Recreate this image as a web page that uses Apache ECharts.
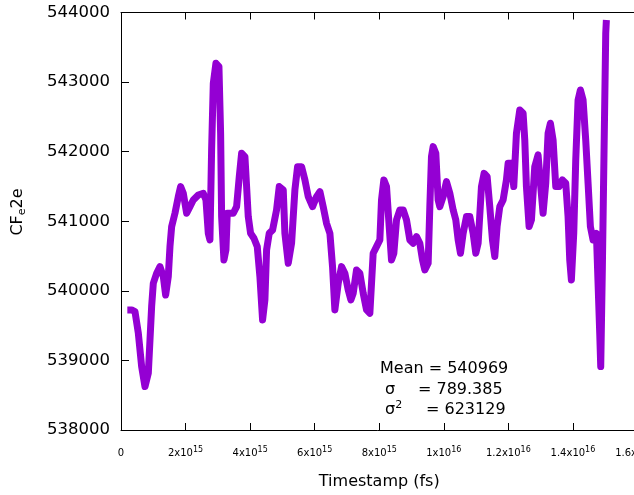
<!DOCTYPE html>
<html><head><meta charset="utf-8">
<script src="https://cdn.jsdelivr.net/npm/echarts@6/dist/echarts.min.js"></script>
<style>html,body{margin:0;padding:0;background:#fff}#c{width:634px;height:495px}</style>
</head><body><div id="c"></div>
<script>
// Timestamp (fs)
const timestamps = [
 0.196e15,0.330e15,0.433e15,0.537e15,0.640e15,0.743e15,0.846e15,0.898e15,0.949e15,1.001e15,
 1.104e15,1.207e15,1.311e15,1.383e15,1.465e15,1.517e15,1.569e15,1.672e15,1.775e15,1.847e15,
 1.930e15,2.033e15,2.136e15,2.239e15,2.394e15,2.549e15,2.632e15,2.704e15,2.755e15,2.807e15,
 2.859e15,2.941e15,3.034e15,3.086e15,3.117e15,3.189e15,3.251e15,3.292e15,3.375e15,3.478e15,
 3.581e15,3.664e15,3.736e15,3.839e15,3.891e15,3.942e15,4.014e15,4.118e15,4.221e15,4.303e15,
 4.386e15,4.458e15,4.510e15,4.592e15,4.696e15,4.819e15,4.902e15,5.026e15,5.077e15,5.181e15,
 5.284e15,5.387e15,5.470e15,5.593e15,5.697e15,5.800e15,5.934e15,6.058e15,6.161e15,6.264e15,
 6.367e15,6.471e15,6.553e15,6.625e15,6.729e15,6.832e15,6.935e15,7.038e15,7.121e15,7.193e15,
 7.296e15,7.399e15,7.503e15,7.606e15,7.709e15,7.812e15,7.915e15,8.019e15,8.070e15,8.142e15,
 8.225e15,8.308e15,8.380e15,8.452e15,8.535e15,8.638e15,8.741e15,8.844e15,8.947e15,9.051e15,
 9.154e15,9.257e15,9.340e15,9.412e15,9.515e15,9.567e15,9.618e15,9.670e15,9.752e15,9.825e15,
 9.876e15,9.979e15,10.083e15,10.186e15,10.289e15,10.371e15,10.444e15,10.516e15,10.599e15,10.702e15,
 10.805e15,10.908e15,10.991e15,11.063e15,11.166e15,11.249e15,11.342e15,11.424e15,11.507e15,11.579e15,
 11.651e15,11.734e15,11.837e15,11.940e15,11.992e15,12.095e15,12.167e15,12.250e15,12.353e15,12.456e15,
 12.508e15,12.559e15,12.642e15,12.714e15,12.817e15,12.920e15,12.993e15,13.075e15,13.158e15,13.230e15,
 13.302e15,13.385e15,13.468e15,13.571e15,13.674e15,13.777e15,13.849e15,13.901e15,13.952e15,14.025e15,
 14.087e15,14.159e15,14.231e15,14.314e15,14.396e15,14.469e15,14.541e15,14.623e15,14.727e15,14.778e15,
 14.830e15,14.861e15,14.912e15,14.964e15,15.016e15,15.036e15
];
// CF_e2e
const cfe2e = [
 539726,539726,539702,539390,538911,538624,538816,539295,539774,540109,
 540253,540348,540205,539941,540205,540636,540923,541115,541354,541498,
 541402,541115,541210,541306,541378,541402,541306,540827,540732,542025,
 542982,543270,543222,542264,541067,540444,540588,541115,541115,541115,
 541210,541641,541977,541929,541498,541067,540827,540755,540636,540205,
 539582,539869,540588,540827,540875,541163,541498,541450,540827,540396,
 540684,541450,541785,541785,541594,541354,541210,541354,541426,541210,
 540971,540827,540348,539726,540109,540348,540253,540013,539869,539965,
 540300,540253,539965,539726,539678,540540,540636,540732,541306,541594,
 541498,540923,540444,540540,541019,541163,541163,541019,540732,540684,
 540780,540684,540444,540301,540396,541210,541929,542072,541977,541306,
 541210,541354,541570,541402,541163,541019,540732,540540,540827,541067,
 541067,540827,540540,540684,541498,541689,541641,541210,540732,540492,
 540923,541210,541306,541594,541833,541833,541498,542264,542599,542551,
 542168,541498,540923,541019,541785,541953,541546,541115,541546,542264,
 542408,542168,541498,541498,541594,541546,541067,540444,540157,540827,
 541881,542743,542887,542743,542168,541546,540923,540732,540827,540109,
 539390,538911,540348,542025,543701,543892
];
const yMin = 538000, yMax = 544000, yStep = 1000;
const xMin = 0, xMax = 1.6e16, xStep = 2e15;
const statLines = [
  { label: 'Mean', value: '540969' },
  { label: 'σ', value: '789.385' },
  { label: 'σ{sup|2}', value: '623129' }
];

function fmtX(v) {
  if (v === 0) return '0';
  const e = Math.floor(Math.log10(v) + 1e-9);
  const m = +(v / Math.pow(10, e)).toFixed(2);
  return m + 'x10{sup|' + e + '}';
}

const chart = echarts.init(document.getElementById('c'));
const FONT = 'DejaVu Sans';
const axisCommon = {
  type: 'value', min: xMin, max: xMax, interval: xStep,
  axisLine: { show: true, lineStyle: { color: '#000', width: 1 } },
  axisTick: { show: true, inside: true, length: 7, lineStyle: { color: '#000' } },
  splitLine: { show: false }
};
chart.setOption({
  animation: false,
  backgroundColor: '#fff',
  grid: { left: 121, right: -3.5, top: 12.5, bottom: 65, containLabel: false, outerBoundsMode: 'none' },
  xAxis: [
    Object.assign({}, axisCommon, {
      position: 'bottom',
      name: 'Timestamp (fs)', nameLocation: 'middle', nameGap: 44,
      nameTextStyle: { fontFamily: FONT, fontSize: 16, color: '#000' },
      axisLabel: {
        fontFamily: FONT, fontSize: 10, color: '#000', margin: 16, lineHeight: 14,
        formatter: fmtX,
        rich: { sup: { fontFamily: FONT, fontSize: 8, color: '#000', verticalAlign: 'top', lineHeight: 14, padding: [0, 0, 4, 0] } }
      }
    }),
    Object.assign({}, axisCommon, { position: 'top', axisLabel: { show: false } })
  ],
  yAxis: {
    type: 'value', min: yMin, max: yMax, interval: yStep,
    axisLine: { show: true, lineStyle: { color: '#000', width: 1 } },
    axisTick: { show: true, inside: true, length: 8, lineStyle: { color: '#000' } },
    splitLine: { show: false },
    axisLabel: { fontFamily: FONT, fontSize: 16.5, color: '#000', margin: 11, formatter: v => String(v) }
  },
  series: [{
    type: 'line',
    data: timestamps.map((t, i) => [t, cfe2e[i]]),
    showSymbol: false,
    sampling: false,
    lineStyle: { color: '#9400D3', width: 7, cap: 'butt', join: 'round' },
    itemStyle: { color: '#9400D3' },
    z: 1
  }],
  graphic: [
    { type: 'text', x: 18, y: 212, rotation: Math.PI / 2,
      style: { text: 'CF{sub|e}2e', fontFamily: FONT, fontSize: 16, fill: '#000', align: 'center', verticalAlign: 'middle', lineHeight: 20,
        rich: { sub: { fontFamily: FONT, fontSize: 11, fill: '#000', verticalAlign: 'bottom', lineHeight: 20 } } } },
    { type: 'text', x: 380, y: 369, style: { text: statLines[0].label + ' = ' + statLines[0].value, fontFamily: FONT, fontSize: 16, fill: '#000', verticalAlign: 'middle' } },
    { type: 'text', x: 385, y: 390, style: { text: statLines[1].label, fontFamily: FONT, fontSize: 16, fill: '#000', verticalAlign: 'middle' } },
    { type: 'text', x: 418, y: 390, style: { text: '= ' + statLines[1].value, fontFamily: FONT, fontSize: 16, fill: '#000', verticalAlign: 'middle' } },
    { type: 'text', x: 385, y: 410, style: { text: statLines[2].label, fontFamily: FONT, fontSize: 16, fill: '#000', verticalAlign: 'middle', lineHeight: 20,
        rich: { sup: { fontFamily: FONT, fontSize: 11, fill: '#000', verticalAlign: 'top', lineHeight: 20 } } } },
    { type: 'text', x: 426, y: 410, style: { text: '= ' + statLines[2].value, fontFamily: FONT, fontSize: 16, fill: '#000', verticalAlign: 'middle' } }
  ]
});
</script></body></html>
